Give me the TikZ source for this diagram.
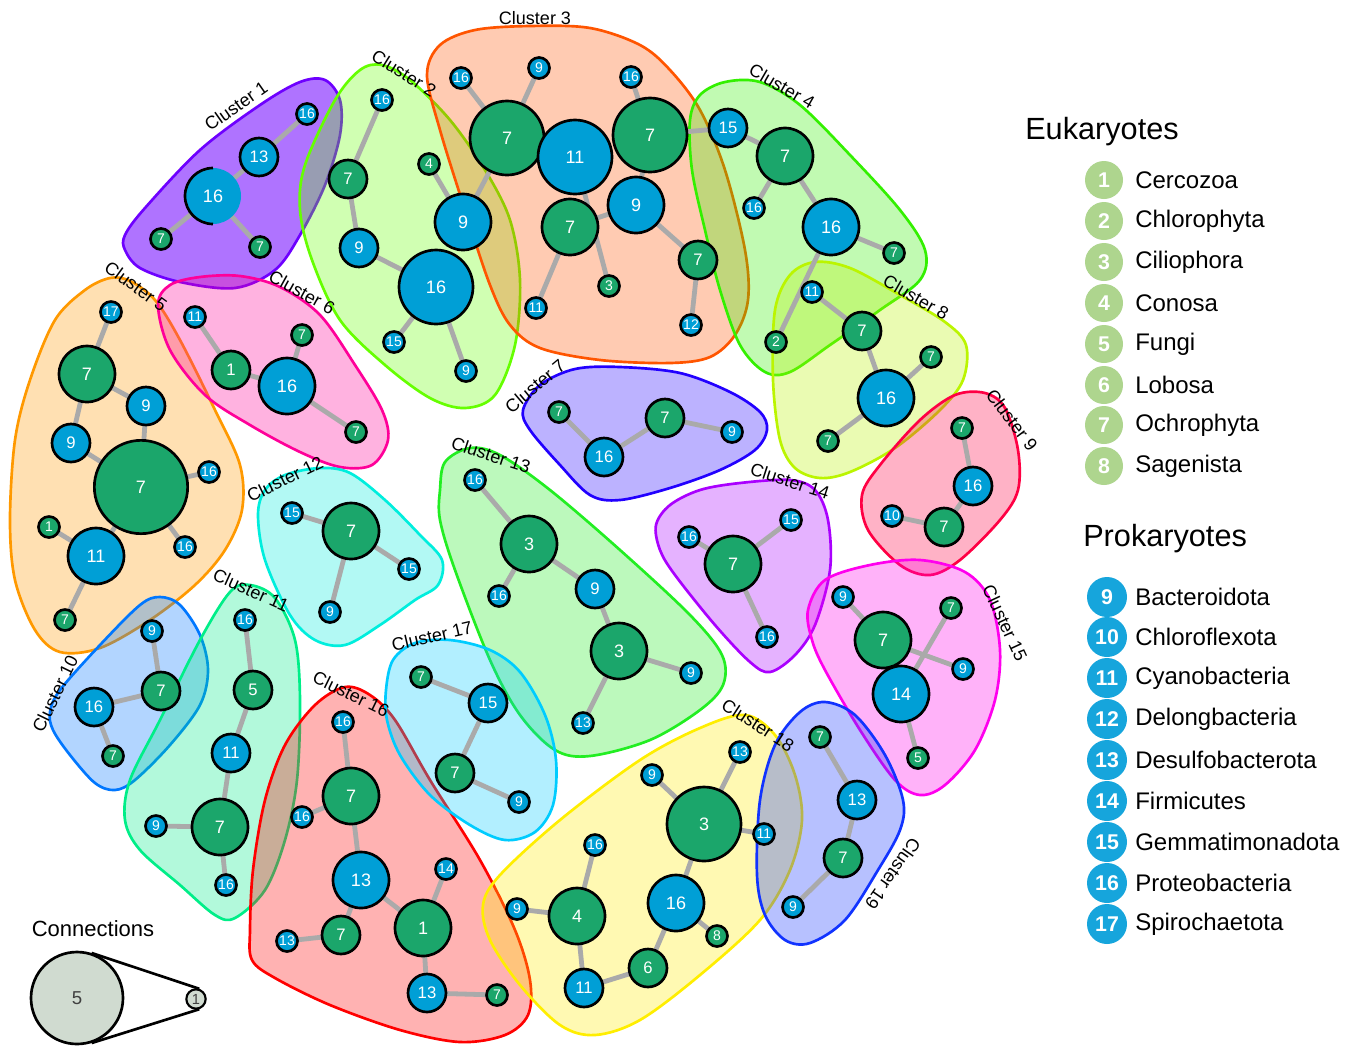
\documentclass[tikz,border=0pt]{standalone}
\usepackage{fontspec}
\setmainfont{Liberation Sans}
\usetikzlibrary{shapes.geometric}
\definecolor{ng}{RGB}{27,166,107}
\definecolor{nb}{RGB}{0,159,214}
\definecolor{eg}{RGB}{174,213,142}
\definecolor{pb}{RGB}{22,165,220}
\definecolor{ed}{RGB}{170,170,170}
\definecolor{cn}{RGB}{208,219,208}
\definecolor{h1}{RGB}{110,0,255}
\definecolor{h2}{RGB}{102,255,0}
\definecolor{h3}{RGB}{255,85,0}
\definecolor{h4}{RGB}{51,240,0}
\definecolor{h5}{RGB}{255,153,0}
\definecolor{h6}{RGB}{255,0,153}
\definecolor{h7}{RGB}{34,0,255}
\definecolor{h8}{RGB}{187,245,0}
\definecolor{h9}{RGB}{255,0,68}
\definecolor{h10}{RGB}{0,119,255}
\definecolor{h11}{RGB}{0,238,136}
\definecolor{h12}{RGB}{0,238,221}
\definecolor{h13}{RGB}{34,238,34}
\definecolor{h14}{RGB}{170,0,255}
\definecolor{h15}{RGB}{255,0,238}
\definecolor{h16}{RGB}{255,0,0}
\definecolor{h17}{RGB}{0,204,255}
\definecolor{h18}{RGB}{255,238,0}
\definecolor{h19}{RGB}{17,51,255}
\pgfdeclarelayer{hulls}
\pgfdeclarelayer{edges}
\pgfsetlayers{hulls,edges,main}
\begin{document}
\begin{tikzpicture}[x=0.75pt,y=-0.75pt,
  nd/.style={circle,draw=black,line width=2pt,inner sep=0pt,text=white},
  gn/.style={nd,fill=ng}, bn/.style={nd,fill=nb},
  sa/.style={minimum size=15.75pt,font=\fontsize{10.5}{11}\selectfont},
  sb/.style={minimum size=28.5pt,font=\fontsize{12.5}{13}\selectfont},
  sc/.style={minimum size=42pt,font=\fontsize{13.5}{14}\selectfont},
  sd/.style={minimum size=55.5pt,font=\fontsize{13.5}{14}\selectfont},
  se/.style={minimum size=70pt,font=\fontsize{13.5}{14}\selectfont},
  edge/.style={draw=ed,line width=3.6pt},
  hull/.style={line width=2pt,draw=#1,fill=#1,fill opacity=0.3},
  lab/.style={font=\fontsize{13.5}{14}\selectfont,inner sep=0pt},
  leg/.style={font=\fontsize{18}{20}\selectfont,anchor=west,inner sep=0pt},
  le/.style={circle,fill=eg,minimum size=28.5pt,inner sep=0pt,text=white,font=\fontsize{16}{17}\selectfont\bfseries},
  lp/.style={circle,fill=pb,minimum size=30pt,inner sep=0pt,text=white,font=\fontsize{16}{17}\selectfont\bfseries}
]
\useasboundingbox (0,0) rectangle (1359,1047);
\begin{pgfonlayer}{hulls}
\fill[white] (0,0) rectangle (1359,1047);
% hulls
\draw[hull=h1,fill opacity=0.55] plot[smooth cycle,tension=0.55] coordinates {(125,235) (145,208) (200,150) (260,105) (300,82) (325,80) (340,100) (340,135) (325,185) (300,235) (275,270) (235,288) (180,282) (140,268) (125,250)};
\draw[hull=h2] plot[smooth cycle,tension=0.55] coordinates {(382,65) (360,70) (335,100) (305,165) (300,210) (312,260) (340,320) (385,365) (430,398) (465,408) (495,395) (515,345) (520,280) (510,220) (485,170) (450,120) (410,80)};
\draw[hull=h3] plot[smooth cycle,tension=0.55] coordinates {(427,75) (440,45) (475,30) (530,26) (590,28) (640,45) (670,70) (700,110) (725,170) (745,250) (748,300) (735,335) (710,357) (670,363) (600,360) (540,348) (510,325) (490,285) (465,210) (440,130)};
\draw[hull=h4] plot[smooth cycle,tension=0.55] coordinates {(690,120) (700,95) (725,82) (760,82) (800,105) (850,155) (900,210) (925,250) (920,280) (880,310) (830,345) (790,372) (765,372) (740,345) (720,290) (705,230) (692,170)};
\draw[hull=h8] plot[smooth cycle,tension=0.55] coordinates {(775,310) (790,275) (815,262) (850,268) (900,295) (945,322) (966,345) (963,380) (940,410) (895,448) (850,472) (820,478) (795,468) (780,440) (773,380)};
\draw[hull=h5] plot[smooth cycle,tension=0.55] coordinates {(110,278) (130,281) (155,300) (180,340) (215,410) (240,465) (242,510) (225,550) (195,585) (150,620) (100,648) (60,652) (35,630) (15,580) (10,520) (15,440) (30,380) (55,320) (85,290)};
\draw[hull=h6] plot[smooth cycle,tension=0.55] coordinates {(158,305) (170,285) (200,277) (240,276) (280,287) (320,315) (355,365) (382,410) (388,440) (372,465) (340,467) (300,452) (250,425) (205,395) (170,350)};
\draw[hull=h7] plot[smooth cycle,tension=0.55] coordinates {(523,410) (540,385) (575,369) (620,367) (680,373) (730,392) (760,412) (767,430) (755,450) (720,470) (670,488) (620,500) (590,495) (560,465) (530,430)};
\draw[hull=h9] plot[smooth cycle,tension=0.55] coordinates {(862,495) (880,465) (920,420) (955,395) (985,393) (1005,408) (1018,450) (1018,490) (1000,520) (960,560) (930,575) (900,565) (868,530)};
\draw[hull=h10] plot[smooth cycle,tension=0.55] coordinates {(50,712) (60,690) (100,645) (140,605) (160,597) (180,605) (200,635) (208,670) (200,705) (170,745) (135,780) (115,790) (95,783) (70,755) (53,730)};
\draw[hull=h11] plot[smooth cycle,tension=0.55] coordinates {(125,820) (130,780) (160,720) (200,640) (230,592) (250,585) (275,598) (295,640) (300,700) (297,780) (285,840) (265,890) (235,918) (215,915) (180,885) (140,850)};
\draw[hull=h12] plot[smooth cycle,tension=0.55] coordinates {(258,515) (265,490) (285,475) (320,468) (350,473) (385,500) (420,535) (442,560) (438,585) (415,600) (380,625) (345,645) (315,640) (290,615) (265,560)};
\draw[hull=h13] plot[smooth cycle,tension=0.55] coordinates {(440,490) (445,462) (470,448) (500,455) (550,490) (620,550) (690,615) (722,655) (723,685) (700,710) (650,740) (590,756) (555,750) (520,715) (490,660) (455,570) (440,520)};
\draw[hull=h14] plot[smooth cycle,tension=0.55] coordinates {(656,525) (670,505) (700,490) (740,483) (790,480) (815,490) (828,520) (830,570) (815,625) (795,655) (770,672) (750,662) (715,625) (675,575) (660,550)};
\draw[hull=h15] plot[smooth cycle,tension=0.55] coordinates {(808,610) (825,580) (870,565) (920,560) (965,572) (990,600) (1000,650) (995,700) (975,750) (945,785) (920,795) (895,780) (860,730) (825,670) (812,640)};
\draw[hull=h16] plot[smooth cycle,tension=0.55] coordinates {(250,930) (253,870) (265,800) (285,745) (315,705) (345,687) (370,695) (395,720) (430,780) (480,860) (515,930) (530,980) (528,1015) (505,1035) (460,1042) (400,1030) (330,1005) (275,978) (252,960)};
\draw[hull=h17] plot[smooth cycle,tension=0.55] coordinates {(386,690) (393,660) (415,643) (450,640) (490,650) (520,672) (545,715) (556,760) (553,805) (535,832) (505,840) (470,825) (430,795) (400,755) (387,720)};
\draw[hull=h18] plot[smooth cycle,tension=0.55] coordinates {(483,905) (500,875) (560,820) (640,760) (700,728) (745,715) (775,735) (795,775) (802,820) (790,870) (760,920) (700,975) (640,1020) (595,1035) (560,1025) (520,985) (490,940)};
\draw[hull=h19] plot[smooth cycle,tension=0.55] coordinates {(757,875) (760,800) (775,745) (800,712) (825,702) (855,715) (885,755) (903,800) (900,830) (878,870) (845,920) (810,943) (785,940) (765,915)};
\end{pgfonlayer}

% cluster labels
\node[lab,rotate=35] (l1) at (236,106) {Cluster 1};
\node[lab,rotate=-32] (l2) at (404,73) {Cluster 2};
\node[lab] (l3) at (535,18) {Cluster 3};
\node[lab,rotate=-30] (l4) at (782,86) {Cluster 4};
\node[lab,rotate=-36] (l5) at (136,286) {Cluster 5};
\node[lab,rotate=-29] (l6) at (302,292) {Cluster 6};
\node[lab,rotate=40] (l7) at (535,386) {Cluster 7};
\node[lab,rotate=-30] (l8) at (916,297) {Cluster 8};
\node[lab,rotate=-53] (l9) at (1012,420) {Cluster 9};
\node[lab,rotate=64] (l10) at (55,694) {Cluster 10};
\node[lab,rotate=-24] (l11) at (251,590) {Cluster 11};
\node[lab,rotate=26] (l12) at (285,479) {Cluster 12};
\node[lab,rotate=-18] (l13) at (491,455) {Cluster 13};
\node[lab,rotate=-18] (l14) at (790,481) {Cluster 14};
\node[lab,rotate=-65] (l15) at (1005,623) {Cluster 15};
\node[lab,rotate=-26] (l16) at (351,694) {Cluster 16};
\node[lab,rotate=13] (l17) at (432,636) {Cluster 17};
\node[lab,rotate=-33] (l18) at (758,725) {Cluster 18};
\node[lab,rotate=-125] (l19) at (893,874) {Cluster 19};

% cluster 1
\node[nd,fill=nb,draw=none,sc] (c1a) at (213,196) {16};
\draw[line width=2pt] (c1a.center) ++(0,21pt) arc[start angle=90,end angle=270,radius=21pt];
\node[bn,sb] (c1b) at (259,157) {13};
\node[bn,sa] (c1c) at (307,114) {16};
\node[gn,sa] (c1d) at (161,239) {7};
\node[gn,sa] (c1e) at (260,247) {7};
% cluster 2
\node[bn,sa] (c2a) at (382,100) {16};
\node[gn,sb] (c2b) at (348,179) {7};
\node[bn,sb] (c2c) at (359,248) {9};
\node[bn,sd] (c2d) at (436,287) {16};
\node[bn,sa] (c2e) at (394,342) {15};
\node[bn,sa] (c2f) at (466,371) {9};
\node[gn,sa] (c2g) at (429,164) {4};
\node[bn,sc] (c2h) at (463,222) {9};
% cluster 3
\node[bn,sa] (c3a) at (461,78) {16};
\node[bn,sa] (c3b) at (539,68) {9};
\node[gn,sd] (c3c) at (507,138) {7};
\node[bn,sd] (c3d) at (575,157) {11};
\node[gn,sd] (c3e) at (650,135) {7};
\node[bn,sa] (c3f) at (631,77) {16};
\node[bn,sc] (c3g) at (636,205) {9};
\node[gn,sc] (c3h) at (570,227) {7};
\node[gn,sa] (c3i) at (609,286) {3};
\node[bn,sa] (c3j) at (536,308) {11};
\node[gn,sb] (c3k) at (698,260) {7};
\node[bn,sa] (c3l) at (691,325) {12};
% cluster 4
\node[bn,sb] (c4a) at (728,128) {15};
\node[gn,sc] (c4b) at (785,156) {7};
\node[bn,sa] (c4c) at (754,208) {16};
\node[bn,sc] (c4d) at (831,227) {16};
\node[gn,sa] (c4e) at (894,253) {7};
\node[gn,sa] (c4f) at (776,342) {2};
% cluster 8
\node[bn,sa] (c8a) at (812,292) {11};
\node[gn,sb] (c8b) at (862,331) {7};
\node[gn,sa] (c8c) at (931,357) {7};
\node[bn,sc] (c8d) at (886,398) {16};
\node[gn,sa] (c8e) at (828,441) {7};
% cluster 5
\node[bn,sa] (c5a) at (111,312) {17};
\node[gn,sc] (c5b) at (87,374) {7};
\node[bn,sb] (c5c) at (146,406) {9};
\node[bn,sb] (c5d) at (71,443) {9};
\node[gn,se] (c5e) at (141,487) {7};
\node[bn,sa] (c5f) at (209,472) {16};
\node[gn,sa] (c5g) at (49,527) {1};
\node[bn,sc] (c5h) at (96,556) {11};
\node[bn,sa] (c5i) at (185,547) {16};
\node[gn,sa] (c5j) at (65,620) {7};
% cluster 6
\node[bn,sa] (c6a) at (195,317) {11};
\node[gn,sb] (c6b) at (231,370) {1};
\node[bn,sc] (c6c) at (287,386) {16};
\node[gn,sa] (c6d) at (302,335) {7};
\node[gn,sa] (c6e) at (356,432) {7};
% cluster 7
\node[gn,sa] (c7a) at (559,412) {7};
\node[bn,sb] (c7b) at (604,457) {16};
\node[gn,sb] (c7c) at (665,418) {7};
\node[bn,sa] (c7d) at (732,432) {9};
% cluster 9
\node[gn,sa] (c9a) at (962,428) {7};
\node[bn,sb] (c9b) at (973,486) {16};
\node[gn,sb] (c9c) at (944,527) {7};
\node[bn,sa] (c9d) at (892,516) {10};
% cluster 10
\node[bn,sa] (c10a) at (152,631) {9};
\node[gn,sb] (c10b) at (161,691) {7};
\node[bn,sb] (c10c) at (94,707) {16};
\node[gn,sa] (c10d) at (113,756) {7};
% cluster 11
\node[bn,sa] (c11a) at (245,620) {16};
\node[gn,sb] (c11b) at (253,690) {5};
\node[bn,sb] (c11c) at (231,753) {11};
\node[gn,sc] (c11d) at (220,827) {7};
\node[bn,sa] (c11e) at (156,826) {9};
\node[bn,sa] (c11f) at (226,885) {16};
% cluster 12
\node[bn,sa] (c12a) at (292,513) {15};
\node[gn,sc] (c12b) at (351,531) {7};
\node[bn,sa] (c12c) at (409,569) {15};
\node[bn,sa] (c12d) at (330,612) {9};
% cluster 13
\node[bn,sa] (c13a) at (475,480) {16};
\node[gn,sc] (c13b) at (529,544) {3};
\node[bn,sa] (c13c) at (499,596) {16};
\node[bn,sb] (c13d) at (595,589) {9};
\node[gn,sc] (c13e) at (619,651) {3};
\node[bn,sa] (c13f) at (691,673) {9};
\node[bn,sa] (c13g) at (583,723) {13};
% cluster 14
\node[bn,sa] (c14a) at (689,537) {16};
\node[gn,sc] (c14b) at (733,564) {7};
\node[bn,sa] (c14c) at (791,520) {15};
\node[bn,sa] (c14d) at (767,637) {16};
% cluster 15
\node[bn,sa] (c15a) at (843,597) {9};
\node[gn,sc] (c15b) at (883,640) {7};
\node[gn,sa] (c15c) at (951,608) {7};
\node[bn,sa] (c15d) at (963,669) {9};
\node[bn,sc] (c15e) at (901,694) {14};
\node[gn,sa] (c15f) at (918,758) {5};
% cluster 16
\node[bn,sa] (c16a) at (343,722) {16};
\node[gn,sc] (c16b) at (351,796) {7};
\node[bn,sa] (c16c) at (302,817) {16};
\node[bn,sc] (c16d) at (361,880) {13};
\node[bn,sa] (c16e) at (446,869) {14};
\node[gn,sc] (c16f) at (423,928) {1};
\node[gn,sb] (c16g) at (341,935) {7};
\node[bn,sa] (c16h) at (287,941) {13};
\node[bn,sb] (c16i) at (427,993) {13};
\node[gn,sa] (c16j) at (497,995) {7};
% cluster 17
\node[gn,sa] (c17a) at (421,677) {7};
\node[bn,sb] (c17b) at (488,703) {15};
\node[gn,sb] (c17c) at (455,773) {7};
\node[bn,sa] (c17d) at (519,802) {9};
% cluster 18
\node[bn,sa] (c18a) at (652,775) {9};
\node[bn,sa] (c18b) at (740,752) {13};
\node[gn,sd] (c18c) at (704,824) {3};
\node[bn,sa] (c18d) at (764,834) {11};
\node[bn,sa] (c18e) at (595,845) {16};
\node[bn,sc] (c18f) at (676,903) {16};
\node[gn,sa] (c18g) at (717,936) {8};
\node[bn,sa] (c18h) at (517,909) {9};
\node[gn,sc] (c18i) at (577,916) {4};
\node[gn,sb] (c18j) at (648,968) {6};
\node[bn,sb] (c18k) at (584,988) {11};
% cluster 19
\node[gn,sa] (c19a) at (820,737) {7};
\node[bn,sb] (c19b) at (857,800) {13};
\node[gn,sb] (c19c) at (843,858) {7};
\node[bn,sa] (c19d) at (793,907) {9};

\begin{pgfonlayer}{edges}
\foreach \a/\b in {c1c/c1b,c1b/c1a,c1a/c1d,c1a/c1e,
 c2a/c2b,c2b/c2c,c2c/c2d,c2d/c2e,c2d/c2f,c2g/c2h,c2h/c3c,
 c3a/c3c,c3b/c3c,c3c/c3d,c3f/c3e,c3e/c3g,c3e/c4a,c3d/c3i,c3h/c3j,c3h/c3g,c3g/c3k,c3k/c3l,
 c4a/c4b,c4b/c4c,c4b/c4d,c4d/c4e,c4d/c4f,
 c8a/c8b,c8b/c8d,c8d/c8c,c8d/c8e,
 c5a/c5b,c5b/c5c,c5b/c5d,c5c/c5e,c5d/c5e,c5e/c5f,c5e/c5i,c5e/c5h,c5g/c5h,c5h/c5j,
 c6a/c6b,c6b/c6c,c6c/c6d,c6c/c6e,
 c7a/c7b,c7b/c7c,c7c/c7d,
 c9a/c9b,c9b/c9c,c9c/c9d,
 c10a/c10b,c10b/c10c,c10c/c10d,
 c11a/c11b,c11b/c11c,c11c/c11d,c11d/c11e,c11d/c11f,
 c12a/c12b,c12b/c12c,c12b/c12d,
 c13a/c13b,c13b/c13c,c13b/c13d,c13d/c13e,c13e/c13f,c13e/c13g,
 c14a/c14b,c14b/c14c,c14b/c14d,
 c15a/c15b,c15b/c15d,c15c/c15e,c15e/c15f,
 c16a/c16b,c16b/c16c,c16b/c16d,c16d/c16g,c16g/c16h,c16d/c16f,c16f/c16e,c16f/c16i,c16i/c16j,
 c17a/c17b,c17b/c17c,c17c/c17d,
 c18a/c18c,c18b/c18c,c18c/c18d,c18c/c18f,c18f/c18g,c18f/c18j,c18j/c18k,c18k/c18i,c18i/c18h,c18i/c18e,
 c19a/c19b,c19b/c19c,c19c/c19d}
 {\draw[edge] (\a.center) -- (\b.center);}
\end{pgfonlayer}

% connections legend
\node[font=\fontsize{16.5}{18}\selectfont] (ct) at (93,929) {Connections};
\node[circle,draw=black,line width=2pt,fill=cn,minimum size=69pt,inner sep=0pt,text=black!75,font=\fontsize{14}{15}\selectfont] (k5) at (77,998) {5};
\node[circle,draw=black,line width=1.6pt,fill=cn,minimum size=14.5pt,inner sep=0pt,text=black!75,font=\fontsize{11}{12}\selectfont] (k1) at (196,999) {1};
\draw[line width=2pt] (k5.72) -- (k1.72);
\draw[line width=2pt] (k5.-72) -- (k1.-72);

% taxa legend
\node[font=\fontsize{23}{25}\selectfont,anchor=west,inner sep=0pt] (eu) at (1025,132) {Eukaryotes};
\node[font=\fontsize{23}{25}\selectfont,anchor=west,inner sep=0pt] (pr) at (1083,539) {Prokaryotes};
\foreach \n/\t/\y in {1/Cercozoa/180,2/Chlorophyta/221,3/Ciliophora/262,4/Conosa/303,5/Fungi/344,6/Lobosa/385,7/Ochrophyta/425,8/Sagenista/466}
 {\node[le] (e\n) at (1104,\y) {\n}; \node[leg] (et\n) at (1135,\y) {\t};}
\foreach \n/\t/\y in {9/Bacteroidota/597,10/Chloroflexota/637,11/Cyanobacteria/678,12/Delongbacteria/719,13/Desulfobacterota/760,14/Firmicutes/801,15/Gemmatimonadota/842,16/Proteobacteria/883,17/Spirochaetota/924}
 {\node[lp] (p\n) at (1107,\y) {\n}; \node[leg] (pt\n) at (1135,\y) {\t};}
\end{tikzpicture}
\end{document}
